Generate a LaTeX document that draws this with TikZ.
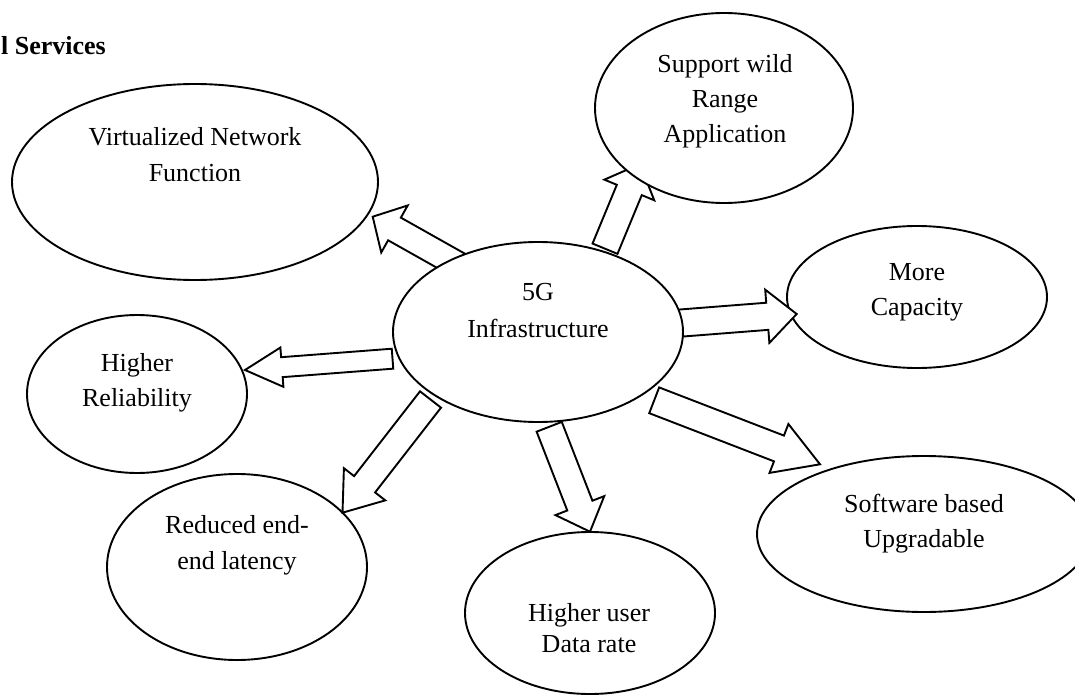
\documentclass[tikz,border=0pt]{standalone}
\usepackage{fontspec}
\setmainfont{Liberation Serif}
\usetikzlibrary{shapes.geometric,calc}
\pgfdeclarelayer{ellback}
\pgfdeclarelayer{arrowlayer}
\pgfsetlayers{ellback,arrowlayer,main}
\newcommand\mlines[2]{\fontsize{26}{#1}\selectfont\begin{tabular}[t]{@{}c@{}}#2\end{tabular}}
\newcommand\blockarrow[5]{%
  \coordinate (ban) at ($(#2)!#5!(#1)$);
  \draw[barrow] ($(#1)!#3!90:(#2)$) -- ($(ban)!#3!90:(#2)$) -- ($(ban)!#4!90:(#2)$) -- (#2)
    -- ($(ban)!#4!-90:(#2)$) -- ($(ban)!#3!-90:(#2)$) -- ($(#1)!#3!-90:(#2)$) -- cycle;}
\begin{document}
\begin{tikzpicture}[x=1pt,y=-1pt,
  ell/.style={ellipse, draw, line width=1.9pt, fill=white, inner sep=0pt},
  barrow/.style={draw, line width=1.9pt, fill=white, line join=miter},
  lbl/.style={anchor=base, inner sep=0pt}]
\useasboundingbox (0,0) rectangle (1075,695);
\clip (0,0) rectangle (1075,695);
% title fragment
\node[anchor=base east, inner sep=0pt, font=\bfseries\fontsize{26}{30}\selectfont] (title) at (106,55) {l Services};
% outer ellipses
\begin{pgfonlayer}{ellback}
\node[ell, minimum width=366pt, minimum height=196pt] (vnf) at (195,182) {};
\node[ell, minimum width=260pt, minimum height=142pt] (cap) at (917,297) {};
\node[ell, minimum width=220pt, minimum height=158pt] (rel) at (137,394) {};
\node[ell, minimum width=260pt, minimum height=186pt] (lat) at (237,567) {};
\node[ell, minimum width=250pt, minimum height=162pt] (dat) at (590,613) {};
\node[ell, minimum width=334pt, minimum height=156pt] (sw) at (924,534) {};
\end{pgfonlayer}
\node[ell, minimum width=258pt, minimum height=190pt] (sup) at (724,108) {};
\node[ell, minimum width=290pt, minimum height=180pt] (c) at (538,332) {};
% texts
\node[lbl] (vnf-t) at (195,146) {\mlines{35.5}{Virtualized Network\\Function}};
\node[lbl] (sup-t) at (725,73) {\mlines{35}{Support wild\\Range\\Application}};
\node[lbl] (cap-t) at (917,280) {\mlines{35}{More\\Capacity}};
\node[lbl] (rel-t) at (137,371) {\mlines{35}{Higher\\Reliability}};
\node[lbl] (lat-t) at (237,533) {\mlines{36}{Reduced end-\\end latency}};
\node[lbl] (dat-t) at (589,621) {\mlines{31}{Higher user\\Data rate}};
\node[lbl] (sw-t) at (924,512) {\mlines{35}{Software based\\Upgradable}};
\node[lbl] (c-t) at (538,300) {\mlines{37}{5G\\Infrastructure}};
% arrow end points
\coordinate (tA) at ($(c.center)+(-74,-63.9)$);
\coordinate (hA) at ($(vnf.center)+(177.7,34.7)$);
\coordinate (tB) at ($(c.center)+(67,-83.3)$);
\coordinate (hB) at ($(sup.center)+(-84,56.1)$);
\coordinate (tC) at ($(c.center)+(129.5,-7.9)$);
\coordinate (hC) at ($(cap.center)+(-120.3,17)$);
\coordinate (tD) at ($(c.center)+(-145.5,26.7)$);
\coordinate (hD) at ($(rel.center)+(108,-24)$);
\coordinate (tE) at ($(c.center)+(-107.5,67.5)$);
\coordinate (hE) at ($(lat.center)+(105.5,-54.3)$);
\coordinate (tF) at ($(c.center)+(11.2,94.8)$);
\coordinate (hF) at ($(dat.center)+(0,-81.3)$);
\coordinate (tG) at ($(c.center)+(116.2,68.3)$);
\coordinate (hG) at ($(sw.center)+(-104,-69.7)$);
\begin{pgfonlayer}{arrowlayer}
\blockarrow{tA}{hA}{13pt}{27pt}{25pt}
\blockarrow{tB}{hB}{13.5pt}{27pt}{28pt}
\blockarrow{tC}{hC}{13.6pt}{26.7pt}{29.5pt}
\blockarrow{tD}{hD}{10pt}{19.7pt}{37pt}
\blockarrow{tE}{hE}{13.3pt}{26.2pt}{36pt}
\blockarrow{tF}{hF}{13.5pt}{26.2pt}{28pt}
\blockarrow{tG}{hG}{13.8pt}{26.2pt}{44pt}
\end{pgfonlayer}
\end{tikzpicture}
\end{document}
